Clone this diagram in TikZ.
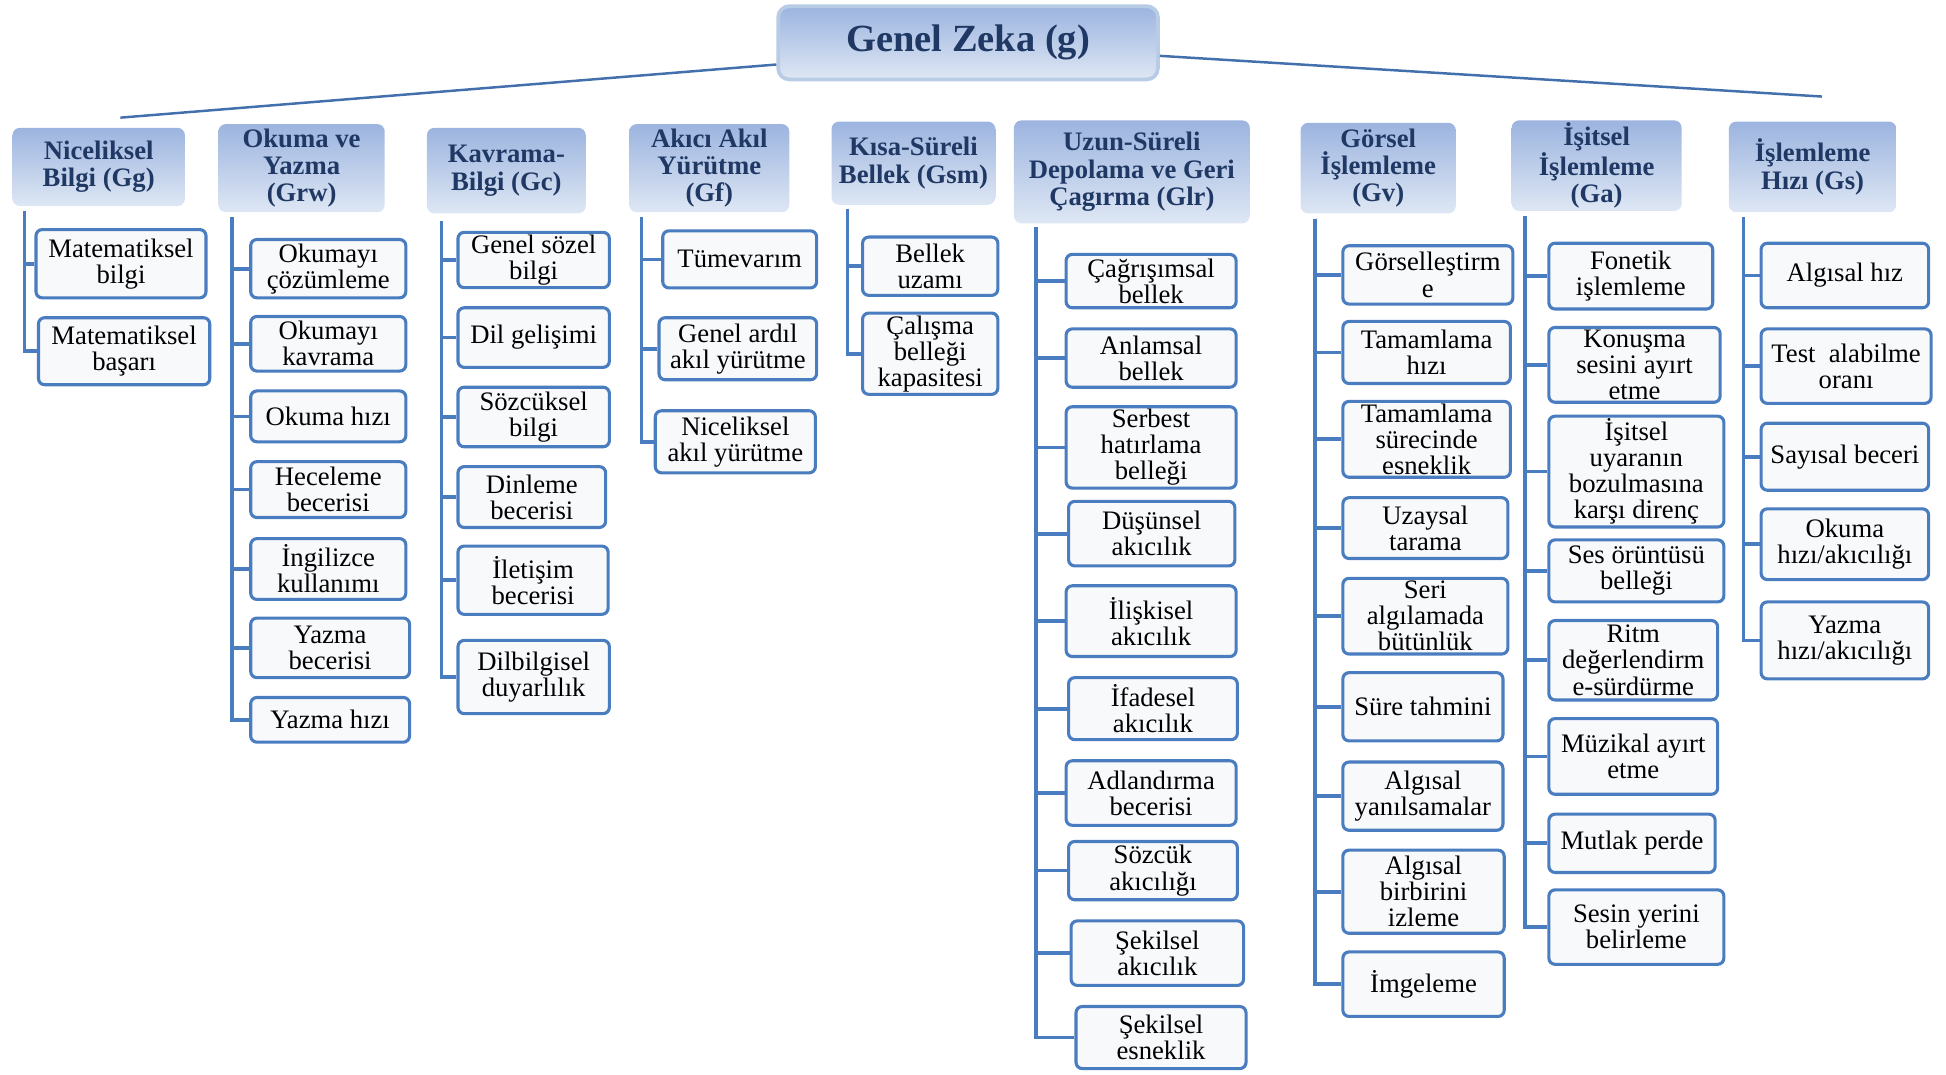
\documentclass[tikz,border=0pt]{standalone}
\usepackage{fontspec}
\setmainfont{Liberation Serif}
\usepackage{tikz}
\usetikzlibrary{positioning,calc}
\definecolor{lacivert}{HTML}{1F3864}
\definecolor{mavi}{HTML}{4A7CC0}
\definecolor{baslikust}{HTML}{9CB4DF}
\definecolor{baslikalt}{HTML}{DEE7F4}
\definecolor{kenar}{HTML}{B9CCE6}
\definecolor{zemin}{HTML}{F8F9FB}

\begin{document}
\begin{tikzpicture}[x=1pt, y=-1pt,
  kok/.style={draw=kenar, line width=3pt, rounded corners=9pt, top color=baslikust, bottom color=baslikalt, text=lacivert, font=\bfseries\fontsize{31}{31}\selectfont, minimum width=306pt, minimum height=59pt},
  alan/.style={rounded corners=6pt, top color=baslikust, bottom color=baslikalt, text=lacivert, align=center, inner sep=2pt, font=\bfseries\fontsize{21.5}{22}\selectfont},
  yet/.style={draw=mavi, line width=2.5pt, rounded corners=5pt, fill=zemin, text=black, align=center, inner sep=2pt, font=\fontsize{21.5}{21}\selectfont},
  dal/.style={draw=mavi, line width=3pt},
  kol/.style={draw=mavi!90!black, line width=2pt}]
  \useasboundingbox (0,0) rectangle (1568,866);

  \node[kok] (g) at (780,34.5) {Genel Zeka (g)};

  \node[alan, minimum width=139pt, minimum height=63pt] (gg) at (79.5,134.5) {Niceliksel\\Bilgi (Gg)};
  \node[alan, minimum width=134pt, minimum height=71pt] (grw) at (243,135.5) {Okuma ve\\Yazma\\(Grw)};
  \node[alan, minimum width=128pt, minimum height=69pt] (gc) at (408,137.5) {Kavrama-\\Bilgi (Gc)};
  \node[alan, minimum width=129pt, minimum height=71pt] (gf) at (571.5,135.5) {Akıcı Akıl\\Yürütme\\(Gf)};
  \node[alan, minimum width=132pt, minimum height=67pt] (gsm) at (736,131.5) {Kısa-Süreli\\Bellek (Gsm)};
  \node[alan, minimum width=190pt, minimum height=83pt] (glr) at (912,138.5) {Uzun-Süreli\\Depolama ve Geri\\Çagırma (Glr)};
  \node[alan, minimum width=125pt, minimum height=73pt] (gv) at (1110.5,135.5) {Görsel\\İşlemleme\\(Gv)};
  \node[alan, minimum width=137pt, minimum height=73pt] (ga) at (1286.5,133.5) {İşitsel\\İşlemleme\\(Ga)};
  \node[alan, minimum width=135pt, minimum height=73pt] (gs) at (1460.5,134.5) {İşlemleme\\Hızı (Gs)};

  \draw[kol] ([yshift=-17.5pt]g.west) -- ([xshift=17.5pt,yshift=8pt]gg.north);
  \draw[kol] ([yshift=-10.5pt]g.east) -- ([xshift=7.5pt,yshift=20pt]gs.north);

  \coordinate (gg-k) at ([xshift=10pt,yshift=-4pt]gg.south west);
  \coordinate (grw-k) at ([xshift=11pt,yshift=-4pt]grw.south west);
  \coordinate (gc-k) at ([xshift=12pt,yshift=-6pt]gc.south west);
  \coordinate (gf-k) at ([xshift=10pt,yshift=-4pt]gf.south west);
  \coordinate (gsm-k) at ([xshift=13pt,yshift=-3pt]gsm.south west);
  \coordinate (glr-k) at ([xshift=18pt,yshift=-3pt]glr.south west);
  \coordinate (gv-k) at ([xshift=12pt,yshift=-4pt]gv.south west);
  \coordinate (ga-k) at ([xshift=11pt,yshift=-4pt]ga.south west);
  \coordinate (gs-k) at ([xshift=12pt,yshift=-4pt]gs.south west);

  \node[yet, minimum width=137pt, minimum height=55pt] (gg1) at (97.5,212.5) {Matematiksel\\bilgi};
  \node[yet, minimum width=138pt, minimum height=54pt] (gg2) at (100,283) {Matematiksel\\başarı};

  \node[yet, minimum width=125pt, minimum height=47pt] (grw1) at (264.5,216.5) {Okumayı\\çözümleme};
  \node[yet, minimum width=125pt, minimum height=44pt] (grw2) at (264.5,277) {Okumayı\\kavrama};
  \node[yet, minimum width=125pt, minimum height=41pt] (grw3) at (264.5,335.5) {Okuma hızı};
  \node[yet, minimum width=125pt, minimum height=45pt] (grw4) at (264.5,394.5) {Heceleme\\becerisi};
  \node[yet, minimum width=125pt, minimum height=49pt] (grw5) at (264.5,458.5) {İngilizce\\kullanımı};
  \node[yet, minimum width=128pt, minimum height=48pt] (grw6) at (266,522) {Yazma\\becerisi};
  \node[yet, minimum width=128pt, minimum height=36pt] (grw7) at (266,580) {Yazma hızı};

  \node[yet, minimum width=122pt, minimum height=43pt] (gc1) at (430,209.5) {Genel sözel\\bilgi};
  \node[yet, minimum width=122pt, minimum height=48pt] (gc2) at (430,272) {Dil gelişimi};
  \node[yet, minimum width=122pt, minimum height=48pt] (gc3) at (430,336) {Sözcüksel\\bilgi};
  \node[yet, minimum width=119pt, minimum height=49pt] (gc4) at (428.5,400.5) {Dinleme\\becerisi};
  \node[yet, minimum width=121pt, minimum height=55pt] (gc5) at (429.5,467.5) {İletişim\\becerisi};
  \node[yet, minimum width=122pt, minimum height=59pt] (gc6) at (430,545.5) {Dilbilgisel\\duyarlılık};

  \node[yet, minimum width=124pt, minimum height=46pt] (gf1) at (596,209) {Tümevarım};
  \node[yet, minimum width=127pt, minimum height=50pt] (gf2) at (594.5,281) {Genel ardıl\\akıl yürütme};
  \node[yet, minimum width=129pt, minimum height=50pt] (gf3) at (592.5,356) {Niceliksel\\akıl yürütme};

  \node[yet, minimum width=109pt, minimum height=47pt] (gsm1) at (749.5,214.5) {Bellek\\uzamı};
  \node[yet, minimum width=109pt, minimum height=60pt] (gsm2) at (749.5,285) {Çalışma\\belleği\\kapasitesi};

  \node[yet, minimum width=137pt, minimum height=43pt] (glr1) at (927.5,226.5) {Çağrışımsal\\bellek};
  \node[yet, minimum width=137pt, minimum height=47pt] (glr2) at (927.5,288.5) {Anlamsal\\bellek};
  \node[yet, minimum width=137pt, minimum height=61pt] (glr3) at (927.5,360.5) {Serbest\\hatırlama\\belleği};
  \node[yet, minimum width=134pt, minimum height=52pt] (glr4) at (928,430) {Düşünsel\\akıcılık};
  \node[yet, minimum width=137pt, minimum height=57pt] (glr5) at (927.5,500.5) {İlişkisel\\akıcılık};
  \node[yet, minimum width=136pt, minimum height=50pt] (glr6) at (929,571) {İfadesel\\akıcılık};
  \node[yet, minimum width=137pt, minimum height=52pt] (glr7) at (927.5,639) {Adlandırma\\becerisi};
  \node[yet, minimum width=136pt, minimum height=47pt] (glr8) at (929,701.5) {Sözcük\\akıcılığı};
  \node[yet, minimum width=139pt, minimum height=52pt] (glr9) at (932.5,768) {Şekilsel\\akıcılık};
  \node[yet, minimum width=137pt, minimum height=50pt] (glr10) at (935.5,836) {Şekilsel\\esneklik};

  \node[yet, minimum width=137pt, minimum height=47pt] (gv1) at (1150.5,221.5) {Görselleştirm\\e};
  \node[yet, minimum width=135pt, minimum height=50pt] (gv2) at (1149.5,284) {Tamamlama\\hızı};
  \node[yet, minimum width=135pt, minimum height=60pt] (gv3) at (1149.5,354) {Tamamlama\\sürecinde\\esneklik};
  \node[yet, minimum width=133pt, minimum height=49pt] (gv4) at (1148.5,425.5) {Uzaysal\\tarama};
  \node[yet, minimum width=133pt, minimum height=61pt] (gv5) at (1148.5,496.5) {Seri\\algılamada\\bütünlük};
  \node[yet, minimum width=129pt, minimum height=55pt] (gv6) at (1146.5,569.5) {Süre tahmini};
  \node[yet, minimum width=129pt, minimum height=55pt] (gv7) at (1146.5,641.5) {Algısal\\yanılsamalar};
  \node[yet, minimum width=130pt, minimum height=67pt] (gv8) at (1147,718.5) {Algısal\\birbirini\\izleme};
  \node[yet, minimum width=130pt, minimum height=52pt] (gv9) at (1147,793) {İmgeleme};

  \node[yet, minimum width=132pt, minimum height=53pt] (ga1) at (1314,222.5) {Fonetik\\işlemleme};
  \node[yet, minimum width=138pt, minimum height=58pt] (ga2) at (1317,294) {Konuşma\\sesini ayırt\\etme};
  \node[yet, minimum width=141pt, minimum height=82pt] (ga3) at (1318.5,380) {İşitsel\\uyaranın\\bozulmasına\\karşı direnç};
  \node[yet, minimum width=141pt, minimum height=50pt] (ga4) at (1318.5,460) {Ses örüntüsü\\belleği};
  \node[yet, minimum width=136pt, minimum height=64pt] (ga5) at (1316,532) {Ritm\\değerlendirm\\e-sürdürme};
  \node[yet, minimum width=136pt, minimum height=61pt] (ga6) at (1316,609.5) {Müzikal ayırt\\etme};
  \node[yet, minimum width=134pt, minimum height=47pt] (ga7) at (1315,679.5) {Mutlak perde};
  \node[yet, minimum width=141pt, minimum height=60pt] (ga8) at (1318.5,747) {Sesin yerini\\belirleme};

  \node[yet, minimum width=135pt, minimum height=52pt] (gs1) at (1486.5,222) {Algısal hız};
  \node[yet, minimum width=137pt, minimum height=60pt] (gs2) at (1487.5,295) {Test\ \ alabilme\\oranı};
  \node[yet, minimum width=135pt, minimum height=54pt] (gs3) at (1486.5,368) {Sayısal beceri};
  \node[yet, minimum width=135pt, minimum height=57pt] (gs4) at (1486.5,438.5) {Okuma\\hızı/akıcılığı};
  \node[yet, minimum width=135pt, minimum height=62pt] (gs5) at (1486.5,516) {Yazma\\hızı/akıcılığı};

  \draw[dal] (gg-k) |- (gg1.west);
  \draw[dal] (gg-k) |- (gg2.west);

  \draw[dal] (grw-k) |- (grw1.west);
  \draw[dal] (grw-k) |- (grw2.west);
  \draw[dal] (grw-k) |- (grw3.west);
  \draw[dal] (grw-k) |- (grw4.west);
  \draw[dal] (grw-k) |- (grw5.west);
  \draw[dal] (grw-k) |- (grw6.west);
  \draw[dal] (grw-k) |- (grw7.west);

  \draw[dal] (gc-k) |- (gc1.west);
  \draw[dal] (gc-k) |- (gc2.west);
  \draw[dal] (gc-k) |- (gc3.west);
  \draw[dal] (gc-k) |- (gc4.west);
  \draw[dal] (gc-k) |- (gc5.west);
  \draw[dal] (gc-k) |- (gc6.west);

  \draw[dal] (gf-k) |- (gf1.west);
  \draw[dal] (gf-k) |- (gf2.west);
  \draw[dal] (gf-k) |- (gf3.west);

  \draw[dal] (gsm-k) |- (gsm1.west);
  \draw[dal] (gsm-k) |- (gsm2.west);

  \draw[dal] (glr-k) |- (glr1.west);
  \draw[dal] (glr-k) |- (glr2.west);
  \draw[dal] (glr-k) |- (glr3.west);
  \draw[dal] (glr-k) |- (glr4.west);
  \draw[dal] (glr-k) |- (glr5.west);
  \draw[dal] (glr-k) |- (glr6.west);
  \draw[dal] (glr-k) |- (glr7.west);
  \draw[dal] (glr-k) |- (glr8.west);
  \draw[dal] (glr-k) |- (glr9.west);
  \draw[dal] (glr-k) |- (glr10.west);

  \draw[dal] (gv-k) |- (gv1.west);
  \draw[dal] (gv-k) |- (gv2.west);
  \draw[dal] (gv-k) |- (gv3.west);
  \draw[dal] (gv-k) |- (gv4.west);
  \draw[dal] (gv-k) |- (gv5.west);
  \draw[dal] (gv-k) |- (gv6.west);
  \draw[dal] (gv-k) |- (gv7.west);
  \draw[dal] (gv-k) |- (gv8.west);
  \draw[dal] (gv-k) |- (gv9.west);

  \draw[dal] (ga-k) |- (ga1.west);
  \draw[dal] (ga-k) |- (ga2.west);
  \draw[dal] (ga-k) |- (ga3.west);
  \draw[dal] (ga-k) |- (ga4.west);
  \draw[dal] (ga-k) |- (ga5.west);
  \draw[dal] (ga-k) |- (ga6.west);
  \draw[dal] (ga-k) |- (ga7.west);
  \draw[dal] (ga-k) |- (ga8.west);

  \draw[dal] (gs-k) |- (gs1.west);
  \draw[dal] (gs-k) |- (gs2.west);
  \draw[dal] (gs-k) |- (gs3.west);
  \draw[dal] (gs-k) |- (gs4.west);
  \draw[dal] (gs-k) |- (gs5.west);
\end{tikzpicture}
\end{document}
